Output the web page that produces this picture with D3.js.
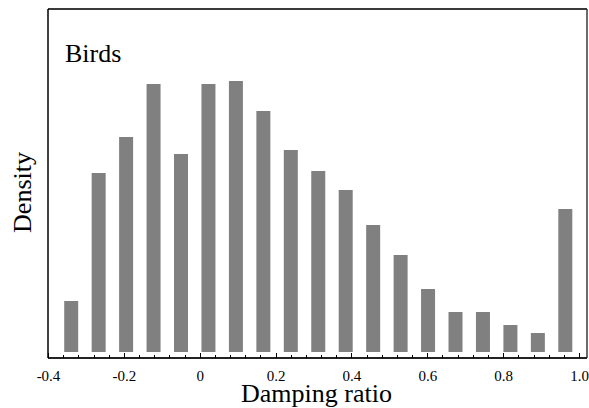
<!DOCTYPE html>
<meta charset="utf-8">
<style>
  body { margin: 0; background: #fff; }
  text { font-family: "Liberation Serif", "Times New Roman", serif; fill: #000; }
  .axis path { display: none; }
  .axis line { stroke: #000; shape-rendering: crispEdges; }
</style>
<body>
<div id="chart"></div>
<script src="https://d3js.org/d3.v7.min.js"></script>
<script>
  // histogram of damping ratio, 19 bins from -0.375 to 1.0
  var binStart = -0.375, binEnd = 1.0;
  var density = [0.51, 1.79, 2.15, 2.68, 1.98, 2.68, 2.71, 2.41, 2.02, 1.81,
                 1.62, 1.27, 0.97, 0.63, 0.40, 0.40, 0.27, 0.19, 1.43];
  var majorTicks = [-0.4, -0.2, 0, 0.2, 0.4, 0.6, 0.8, 1.0];
  var tickLabels = ["-0.4", "-0.2", "0", "0.2", "0.4", "0.6", "0.8", "1.0"];
  var minorTicks = d3.range(-0.36, 1.0, 0.04).filter(function (d) {
    return Math.abs(Math.round(d * 5) - d * 5) > 1e-6;
  });

  var W = 589, H = 408;
  var margin = {top: 9, right: 2, bottom: 50, left: 48};
  var width = W - margin.left - margin.right,
      height = H - margin.top - margin.bottom;

  var binW = (binEnd - binStart) / density.length;

  var x = d3.scaleLinear().domain([-0.4, 1.021]).range([0, width]);
  var y = d3.scaleLinear().domain([-0.06, 3.43]).range([height, 0]);

  var svg = d3.select("#chart").append("svg")
      .attr("width", W).attr("height", H)
    .append("g")
      .attr("transform", "translate(" + margin.left + "," + margin.top + ")");

  svg.selectAll(".bar")
      .data(density)
    .enter().append("rect")
      .attr("class", "bar")
      .attr("x", function (d, i) { return x(binStart + (i + 0.5) * binW) - 7; })
      .attr("width", 14)
      .attr("y", function (d) { return y(d); })
      .attr("height", function (d) { return y(0) - y(d); })
      .attr("fill", "#808080");

  // frame
  svg.append("line").attr("x1", 0).attr("x2", width).attr("y1", 0).attr("y2", 0)
      .attr("stroke", "#3a3a3a").attr("stroke-width", 2);
  svg.append("line").attr("x1", width).attr("x2", width).attr("y1", 0).attr("y2", height)
      .attr("stroke", "#3a3a3a").attr("stroke-width", 1.5);
  svg.append("line").attr("x1", 0).attr("x2", 0).attr("y1", 0).attr("y2", height)
      .attr("stroke", "#000").attr("stroke-width", 1.5);
  svg.append("line").attr("x1", 0).attr("x2", width).attr("y1", height).attr("y2", height)
      .attr("stroke", "#222").attr("stroke-width", 2);

  // minor ticks
  svg.append("g")
      .attr("class", "axis")
      .attr("transform", "translate(0," + height + ")")
      .call(d3.axisBottom(x).tickValues(minorTicks).tickSize(-3).tickFormat(""));

  // major ticks
  var xAxis = svg.append("g")
      .attr("class", "axis")
      .attr("transform", "translate(0," + height + ")")
      .call(d3.axisBottom(x).tickValues(majorTicks).tickSize(-5)
        .tickFormat(function (d, i) { return tickLabels[i]; }));
  xAxis.selectAll("text")
      .attr("y", 12)
      .style("font-size", "15px")
      .style("font-family", "'Liberation Serif', serif");

  svg.append("text")
      .attr("x", width / 2 - 1)
      .attr("y", height + 44)
      .attr("text-anchor", "middle")
      .style("font-size", "26px")
      .text("Damping ratio");

  svg.append("text")
      .attr("transform", "translate(-17," + (height / 2 + 9) + ") rotate(-90)")
      .attr("text-anchor", "middle")
      .style("font-size", "26px")
      .text("Density");

  svg.append("text")
      .attr("x", 17)
      .attr("y", 53)
      .style("font-size", "26px")
      .text("Birds");
</script>
</body>
